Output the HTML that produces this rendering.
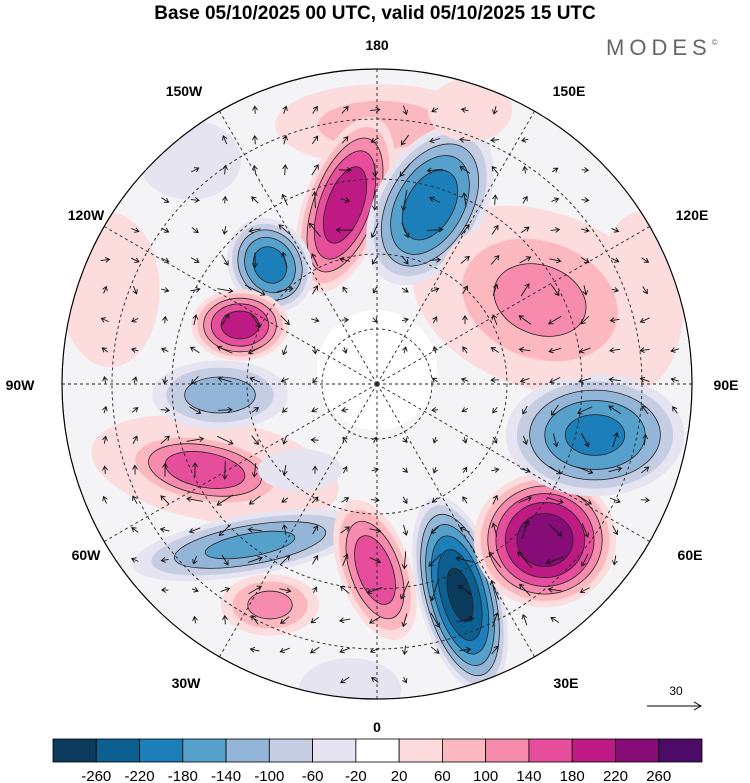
<!DOCTYPE html>
<html><head><meta charset="utf-8"><style>
body{margin:0;background:#fff;}
svg{display:block;font-family:"Liberation Sans",sans-serif;}
</style></head><body>
<svg id="s" width="750" height="783" viewBox="0 0 750 783">
<defs><clipPath id="cc"><circle cx="377" cy="384" r="315"/></clipPath></defs>
<text x="375" y="19" text-anchor="middle" font-size="19" font-weight="bold">Base 05/10/2025 00 UTC, valid 05/10/2025 15 UTC</text>
<text x="606" y="55" font-size="22" fill="#666" letter-spacing="5">MODES<tspan font-size="8" dy="-10">©</tspan></text>
<g id="map" clip-path="url(#cc)"><rect x="0" y="0" width="750" height="783" fill="#f4f4f6"/><circle cx="377" cy="370" r="60" fill="#fff"/></g>
<circle cx="377" cy="384" r="315" fill="none" stroke="#000" stroke-width="1.2"/>
<g id="labels" font-size="14" font-weight="bold" text-anchor="middle"></g>
<g id="cbar"></g>
<text x="676" y="695" font-size="12" text-anchor="middle">30</text>
<line x1="647" y1="706" x2="700" y2="706" stroke="#000"/>
<path d="M694,702 L701,706 L694,710" fill="none" stroke="#000"/>
</svg>
<script>
const levels=[-260,-220,-180,-140,-100,-60,-20,20,60,100,140,180,220,260];
const colors=["#0b3c5d","#0c5f91","#1c7fba","#56a0cc","#93b6d8","#c5cde3","#e6e4f0","#ffffff","#fcdcdc","#fbb9bf","#f78bae","#e64d9a","#bd1a84","#870c78","#4d0a67"];
// anomaly centres: x, y (px), radii, rotation, value
const blobX=[540,215,380,640,110,345,430,270,240,220,205,250,375,460,545,595,540,190,350,270,300,470];
const blobY=[300,470,125,300,290,205,205,265,325,395,470,545,570,595,540,435,300,160,690,605,470,110];
const blobRx=[120,110,90,40,45,32,42,32,38,55,65,95,28,32,55,70,85,45,45,40,40,40];
const blobRy=[80,45,35,80,70,72,68,38,28,28,28,24,58,78,52,48,62,35,28,25,20,30];
const blobRot=[20,10,0,0,0,20,30,-30,0,0,10,-10,-20,-15,0,0,20,0,0,0,0,0];
const blobVal=[50,60,70,50,50,210,-210,-200,200,-120,170,-150,170,-270,250,-190,110,-60,-60,110,-40,40];
const NS="http://www.w3.org/2000/svg";
const map=document.getElementById('map');
function colorFor(v){let i=0;while(i<levels.length&&v>=levels[i])i++;return colors[i];}
blobVal.forEach((v,b)=>{
  const a=Math.abs(v),sg=Math.sign(v);
  const th=[20,60,100,140,180,220,260].filter(t=>t<a);
  th.forEach(t=>{
    const f=Math.pow(1-t/(a+15),0.55)*1.35;
    const e=document.createElementNS(NS,'ellipse');
    
    
    e.setAttribute('cx',blobX[b]);e.setAttribute('cy',blobY[b]);
    e.setAttribute('rx',blobRx[b]*f);e.setAttribute('ry',blobRy[b]*f);
    e.setAttribute('transform',`rotate(${blobRot[b]} ${blobX[b]} ${blobY[b]})`);
    e.setAttribute('fill',colorFor(sg*(t+1)));
    if(t>=100){e.setAttribute('stroke','#222');e.setAttribute('stroke-width','0.8');}
    map.appendChild(e);
  });
});
// graticule
[55,130,205,265].forEach(r=>{
  const c=document.createElementNS(NS,'circle');
  
  
  c.setAttribute('cx',377);c.setAttribute('cy',384);c.setAttribute('r',r);
  c.setAttribute('fill','none');c.setAttribute('stroke','#222');c.setAttribute('stroke-dasharray','3,3');c.setAttribute('stroke-width','0.9');
  map.appendChild(c);
});
for(let k=0;k<12;k++){
  const a=k*30*Math.PI/180;
  const l=document.createElementNS(NS,'line');
  
  
  l.setAttribute('x1',377);l.setAttribute('y1',384);
  l.setAttribute('x2',377+320*Math.sin(a));l.setAttribute('y2',384+320*Math.cos(a));
  l.setAttribute('stroke','#222');l.setAttribute('stroke-dasharray','3,3');l.setAttribute('stroke-width','0.9');
  map.appendChild(l);
}
// wind arrows (decorative)
for(let y=80;y<700;y+=30){for(let x=75;x<690;x+=30){
  const dx=x-377,dy=y-384;if(dx*dx+dy*dy>300*300||dx*dx+dy*dy<40*40)continue;
  let ux=0,uy=0;
  blobVal.forEach((v,b)=>{const ex=x-blobX[b],ey=y-blobY[b];const d2=ex*ex+ey*ey+900;const w=v/d2*40;ux+=-ey*w/Math.sqrt(d2);uy+=ex*w/Math.sqrt(d2);});
  const m=Math.hypot(ux,uy)||1;const L=Math.min(22,6+m*3);const nx=ux/m*L/2,ny=uy/m*L/2;
  const p=document.createElementNS(NS,'path');
  
  
  const hx=x+nx,hy=y+ny,bx=-ux/m,by=-uy/m;
  p.setAttribute('d',`M${x-nx},${y-ny}L${hx},${hy}M${hx+bx*4-by*2.5},${hy+by*4+bx*2.5}L${hx},${hy}L${hx+bx*4+by*2.5},${hy+by*4-bx*2.5}`);
  p.setAttribute('stroke','#111');p.setAttribute('fill','none');p.setAttribute('stroke-width','0.9');
  map.appendChild(p);
}}
// labels
const lblText=["180","150W","150E","120W","120E","90W","90E","60W","60E","30W","30E","0"];
const lblX=[377,184,569,86,692,20,726,86,690,186,566,377];
const lblY=[50,96,96,220,220,390,390,560,560,688,688,732];
const lg=document.getElementById('labels');
lblText.forEach((t,i)=>{const e=document.createElementNS(NS,'text');
  
  
  e.setAttribute('x',lblX[i]);e.setAttribute('y',lblY[i]);e.textContent=t;lg.appendChild(e);});
// colorbar
const cb=document.getElementById('cbar');const x0=53,w=(702-53)/colors.length;
colors.forEach((c,i)=>{const r=document.createElementNS(NS,'rect');
  
  
  r.setAttribute('x',x0+i*w);r.setAttribute('y',739);r.setAttribute('width',w);r.setAttribute('height',23);
  r.setAttribute('fill',c);r.setAttribute('stroke','#000');r.setAttribute('stroke-width','0.8');cb.appendChild(r);});
levels.forEach((v,i)=>{const t=document.createElementNS(NS,'text');
  
  
  t.setAttribute('x',x0+(i+1)*w);t.setAttribute('y',781);t.setAttribute('text-anchor','middle');t.setAttribute('font-size','15');t.textContent=v;cb.appendChild(t);});
</script>
</body></html>
